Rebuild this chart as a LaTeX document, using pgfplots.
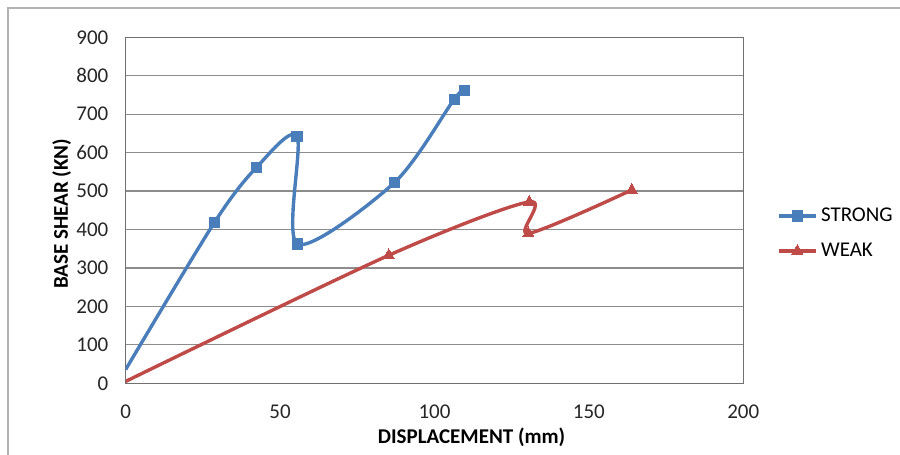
\documentclass[border=0pt]{standalone}
\usepackage{fontspec}
\setmainfont{Carlito}
\usepackage{pgfplots}
\pgfplotsset{compat=1.18}

\definecolor{sblue}{HTML}{4A7EBB}
\definecolor{sred}{HTML}{BE4B48}
\definecolor{gridgray}{HTML}{8C8C8C}
\definecolor{boxgray}{HTML}{707070}

\pgfplotstableread{
x y
0 36
28.7 418
42.3 561
55.5 642
55.7 362
87.0 522
106.4 739
109.7 761
}\strongdata

\pgfplotstableread{
x y
0 5
85.2 333
130.7 472
130.4 390
163.9 503
}\weakdata

\begin{document}
\fontsize{10.5}{12}\selectfont
\begin{tikzpicture}
\useasboundingbox (0,0) rectangle (450pt,227.5pt);
\draw[black!30, line width=0.8pt] (4pt,-5pt) -- (4pt,223.5pt) -- (455pt,223.5pt);
\begin{axis}[
    at={(62.85pt,35.85pt)}, anchor=south west,
    scale only axis,
    width=308.8pt, height=173pt,
    xmin=0, xmax=200, ymin=0, ymax=900,
    xtick={0,50,...,200}, ytick={0,100,...,900},
    major tick length=0pt,
    ymajorgrids, grid style={gridgray, line width=0.6pt},
    axis line style={boxgray, line width=0.7pt},
    tick label style={font=\fontsize{10.5}{12}\selectfont, text=black!85},
    /pgf/number format/assume math mode=true,
    yticklabel style={xshift=-5pt},
    xticklabel style={yshift=-7pt},
    xlabel={\bfseries DISPLACEMENT (mm)},
    ylabel={\bfseries BASE SHEAR (KN)},
    label style={font=\fontsize{10.5}{12}\selectfont, text=black},
    xlabel style={at={(axis description cs:0.56,0)}, anchor=north, yshift=-18.5pt},
    ylabel style={at={(axis description cs:-0.1036,0.49)}, anchor=center, rotate=0},
    legend style={draw=none, fill=none, at={(axis description cs:1.055,0.433)}, anchor=west,
        font=\fontsize{10.5}{12}\selectfont, row sep=5pt, inner xsep=0pt},
    legend cell align=left,
    legend image code/.code={
        \draw[mark indices={2}] plot coordinates {(0pt,0pt)(9pt,0pt)(18pt,0pt)};
    },
]
\addplot[sblue, line width=1.7pt, smooth, tension=0.5, mark=square*, mark size=2.6pt,
    mark indices={2,...,8},
    mark options={solid, fill=sblue, line width=0pt}] table {\strongdata};
\addlegendentry{STRONG}
\addplot[sred, line width=1.7pt, smooth, tension=0.5, mark=triangle*, mark size=3.2pt,
    mark indices={2,...,5},
    mark options={solid, fill=sred, line width=0pt}] table {\weakdata};
\addlegendentry{WEAK}
\end{axis}
\end{tikzpicture}
\end{document}
